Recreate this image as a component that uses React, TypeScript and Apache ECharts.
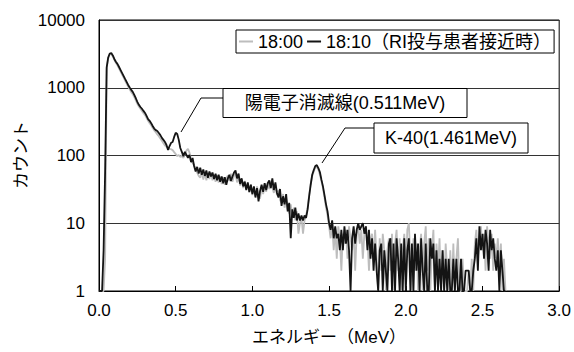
import { useEffect, useRef } from "react";
import * as echarts from "echarts";

// ---- data ----
const ENERGY_STEP = 0.01; // MeV per channel, first channel at 0.00 MeV

// 18:10 (RI投与患者接近時) — black
const countsPatient = [
  1, 1, 1, 4, 60, 2000, 2800, 3200, 3250, 3000,
  2660, 2420, 2250, 2040, 1840, 1660, 1500, 1350, 1220, 1100,
  1010, 930, 870, 785, 700, 620, 560, 520, 490, 455,
  425, 385, 345, 325, 300, 273, 250, 237, 230, 215,
  200, 182, 170, 158, 143, 121, 138, 154, 158, 188,
  216, 208, 170, 129, 113, 98, 113, 102, 92, 102,
  80, 92, 70, 58, 68, 54, 66, 52, 62, 50,
  60, 47, 58, 49, 56, 45, 54, 43, 52, 41,
  49, 39, 48, 37, 46, 52, 42, 49, 56, 60,
  46, 54, 38, 46, 35, 41, 31, 40, 29, 37,
  27, 35, 24, 33, 21, 30, 37, 29, 39, 31,
  39, 43, 33, 46, 31, 40, 28, 24, 32, 18,
  25, 19, 27, 15, 20, 6, 16, 12, 17, 11,
  14, 11, 13, 11, 13, 12, 16, 25, 37, 52,
  61, 70, 72, 65, 57, 44, 35, 26, 19, 15,
  10, 8, 11, 6, 9, 6, 7, 4, 8, 4,
  9, 5, 8, 4, 1, 6, 9, 5, 8, 10,
  8, 9, 10, 7, 9, 4, 8, 3, 6, 2,
  5, 2, 1, 4, 5, 1, 4, 2, 1, 5,
  6, 1, 5, 1, 6, 3, 1, 5, 1, 6,
  1, 4, 6, 1, 5, 1, 7, 2, 5, 1,
  6, 2, 1, 5, 1, 1, 6, 3, 5, 1,
  4, 1, 3, 1, 4, 1, 3, 1, 3, 1,
  1, 3, 1, 3, 1, 1, 3, 1, 1, 2,
  2, 2, 1, 1, 2, 3, 6, 2, 9, 4,
  7, 3, 8, 5, 2, 8, 4, 6, 3, 2,
  4, 1, 4, 2, 1, 1,
];

// 18:00 — grey
const countsBackground = [
  1, 1, 1, 1, 3, 1900, 2700, 3100, 3150, 2900,
  2580, 2330, 2140, 1940, 1750, 1570, 1420, 1280, 1150, 1040,
  950, 860, 800, 730, 650, 580, 530, 490, 455, 420,
  395, 360, 325, 300, 280, 255, 235, 220, 205, 192,
  178, 165, 152, 140, 135, 128, 125, 124, 120, 112,
  105, 98, 102, 95, 100, 92, 104, 118, 126, 110,
  88, 78, 72, 62, 56, 50, 47, 58, 44, 55,
  43, 54, 45, 56, 43, 52, 41, 51, 40, 49,
  38, 48, 37, 46, 51, 42, 54, 41, 50, 55,
  40, 49, 36, 44, 33, 42, 32, 38, 28, 37,
  26, 33, 25, 35, 27, 23, 35, 27, 37, 29,
  40, 32, 42, 34, 28, 37, 26, 31, 22, 20,
  27, 17, 23, 16, 14, 19, 12, 17, 11, 15,
  7, 10, 12, 7, 11, 13, 17, 26, 38, 50,
  58, 66, 68, 62, 52, 42, 33, 24, 17, 13,
  9, 6, 10, 4, 8, 3, 9, 6, 2, 7,
  5, 8, 3, 9, 6, 4, 8, 2, 7, 9,
  5, 8, 3, 7, 9, 6, 2, 5, 7, 3,
  8, 3, 1, 6, 2, 7, 4, 1, 4, 6,
  2, 7, 1, 5, 8, 2, 6, 1, 4, 7,
  2, 8, 10, 3, 1, 6, 2, 5, 1, 4,
  7, 1, 5, 9, 2, 6, 1, 4, 8, 1,
  5, 2, 6, 1, 4, 1, 5, 2, 1, 4,
  1, 5, 1, 3, 6, 1, 1, 3, 1, 1,
  1, 2, 1, 3, 1, 5, 8, 3, 6, 9,
  4, 7, 2, 9, 5, 3, 7, 2, 5, 3,
  6, 2, 5, 1, 3, 1,
];

const seriesNames = ["18:00", "18:10（RI投与患者接近時）"];
const xAxisTitle = "エネルギー（MeV）";
const yAxisTitle = "カウント";
const annotationLabels = ["陽電子消滅線(0.511MeV)", "K-40(1.461MeV)"];

const FONT = "'Liberation Sans', Arial, 'Noto Sans CJK JP', sans-serif";

function toPairs(counts: number[]) {
  return counts.map((c, i) => [Number((i * ENERGY_STEP).toFixed(2)), c]);
}

export default function App() {
  const ref = useRef<HTMLDivElement | null>(null);

  useEffect(() => {
    if (!ref.current) return;
    const chart = echarts.init(ref.current, null, { renderer: "svg" });
    const option: any = {
      animation: false,
      backgroundColor: "#ffffff",
      textStyle: { fontFamily: FONT, color: "#000" },
      grid: {
        left: 99,
        right: 11,
        top: 20,
        bottom: 61,
        show: true,
        borderColor: "#000",
        borderWidth: 1,
        backgroundColor: "transparent",
      },
      legend: {
        left: 236,
        top: 30,
        data: seriesNames,
        icon: "rect",
        itemWidth: 14,
        itemHeight: 2,
        itemGap: 4,
        padding: [2, 3],
        backgroundColor: "#fff",
        borderColor: "#000",
        borderWidth: 1,
        borderRadius: 0,
        selectedMode: false,
        textStyle: { fontFamily: FONT, fontSize: 18, color: "#000", lineHeight: 19 },
      },
      xAxis: {
        type: "value",
        min: 0,
        max: 3,
        interval: 0.5,
        name: xAxisTitle,
        nameLocation: "middle",
        nameGap: 38,
        nameTextStyle: { fontFamily: FONT, fontSize: 17, color: "#000" },
        axisLine: { lineStyle: { color: "#000", width: 1 } },
        axisTick: { inside: true, length: 5, lineStyle: { color: "#000" } },
        axisLabel: {
          color: "#000",
          fontSize: 17,
          fontFamily: FONT,
          margin: 11,
          formatter: (v: number) => v.toFixed(1),
        },
        splitLine: { show: false },
      },
      yAxis: {
        type: "log",
        logBase: 10,
        min: 1,
        max: 10000,
        axisLine: { show: true, lineStyle: { color: "#000", width: 1 } },
        axisTick: { show: false },
        axisLabel: {
          color: "#000",
          fontSize: 17,
          fontFamily: FONT,
          margin: 14,
          formatter: (v: number) => String(Math.round(v)),
        },
        splitLine: { show: true, lineStyle: { color: "#333", width: 1 } },
      },
      series: [
        {
          name: seriesNames[0],
          type: "line",
          data: toPairs(countsBackground),
          showSymbol: false,
          symbol: "none",
          color: "#bdbdbd",
          lineStyle: { color: "#bdbdbd", width: 1.8 },
          z: 2,
        },
        {
          name: seriesNames[1],
          type: "line",
          data: toPairs(countsPatient),
          showSymbol: false,
          symbol: "none",
          color: "#141414",
          lineStyle: { color: "#141414", width: 1.8 },
          z: 3,
        },
      ],
      graphic: [
        {
          type: "text",
          z: 11,
          x: 21,
          y: 155,
          rotation: Math.PI / 2,
          style: {
            text: yAxisTitle,
            font: `17px ${FONT}`,
            fill: "#000",
            align: "center",
            verticalAlign: "middle",
          },
        },
        {
          type: "polyline",
          z: 10,
          shape: { points: [[223, 98], [201, 98], [181, 132]] },
          style: { stroke: "#000", lineWidth: 1, fill: null },
        },
        {
          type: "rect",
          z: 10,
          shape: { x: 223, y: 88.5, width: 244, height: 29 },
          style: { fill: "#fff", stroke: "#000", lineWidth: 1 },
        },
        {
          type: "text",
          z: 11,
          x: 345,
          y: 103,
          style: {
            text: annotationLabels[0],
            font: `18px ${FONT}`,
            fill: "#000",
            align: "center",
            verticalAlign: "middle",
          },
        },
        {
          type: "polyline",
          z: 10,
          shape: { points: [[374, 128], [345, 128], [322, 163]] },
          style: { stroke: "#000", lineWidth: 1, fill: null },
        },
        {
          type: "rect",
          z: 10,
          shape: { x: 374, y: 123, width: 154, height: 30 },
          style: { fill: "#fff", stroke: "#000", lineWidth: 1 },
        },
        {
          type: "text",
          z: 11,
          x: 451,
          y: 138,
          style: {
            text: annotationLabels[1],
            font: `18px ${FONT}`,
            fill: "#000",
            align: "center",
            verticalAlign: "middle",
          },
        },
      ],
    };
    chart.setOption(option);
    return () => chart.dispose();
  }, []);

  return (
    <div
      ref={ref}
      style={{ position: "fixed", left: 0, top: 0, width: 574, height: 352, background: "#fff" }}
    />
  );
}
